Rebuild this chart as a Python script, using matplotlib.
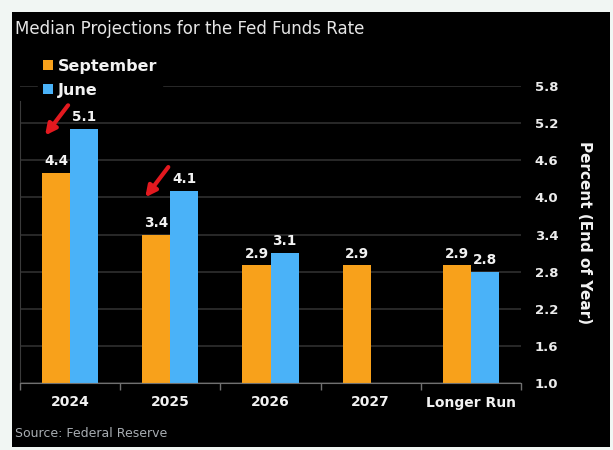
import numpy as np
import matplotlib
matplotlib.use("Agg")
import matplotlib.pyplot as plt
from matplotlib.patches import Rectangle, Patch

categories = ["2024", "2025", "2026", "2027", "Longer Run"]
september = [4.4, 3.4, 2.9, 2.9, 2.9]
june = [5.1, 4.1, 3.1, np.nan, 2.8]
yticks = [1.0, 1.6, 2.2, 2.8, 3.4, 4.0, 4.6, 5.2, 5.8]
arrow_bars = [0, 1]  # categories that carry a red arrow (September bars)

ORANGE = "#f8a11b"
BLUE = "#4ab2f8"
W, H = 613, 450

fig = plt.figure(figsize=(W / 100, H / 100), dpi=100, facecolor="#f1f6f3")
fig.patches.append(Rectangle((12 / W, 3 / H), 598 / W, 435 / H,
                             transform=fig.transFigure, facecolor="black",
                             edgecolor="none", zorder=-10))

ax = fig.add_axes([20 / W, 67 / H, 501 / W, 297 / H])
ax.set_zorder(1)
ax.set_facecolor("black")

x = np.arange(len(categories))
bw = 0.28
sep = np.array(september, dtype=float)
jun = np.array(june, dtype=float)
ax.bar(x - bw / 2, sep, width=bw, color=ORANGE, zorder=2)
mj = ~np.isnan(jun)
ax.bar(x[mj] + bw / 2, jun[mj], width=bw, color=BLUE, zorder=2)

for xi, v in zip(x, sep):
    ax.annotate(f"{v:.1f}", (xi - bw / 2, v), xytext=(0, 3.5), textcoords="offset points",
                ha="center", va="bottom", color="#f2f2f2", fontsize=9.8, fontweight="bold")
for xi, v in zip(x[mj], jun[mj]):
    ax.annotate(f"{v:.1f}", (xi + bw / 2, v), xytext=(0, 3.5), textcoords="offset points",
                ha="center", va="bottom", color="#f2f2f2", fontsize=9.8, fontweight="bold")

for i in arrow_bars:
    v = sep[i]
    ax.annotate("", xy=(x[i] - 0.25, v + 0.6), xytext=(x[i] - 0.02, v + 1.09),
                arrowprops=dict(arrowstyle="-|>", color="#e3191f", lw=3,
                                mutation_scale=16, shrinkA=0, shrinkB=0))

ax.set_xlim(-0.5, len(categories) - 0.5)
ax.set_ylim(yticks[0], yticks[-1])
ax.set_yticks(yticks)
ax.set_yticklabels([f"{t:.1f}" for t in yticks])
ax.yaxis.tick_right()
ax.tick_params(axis="y", length=0, pad=10, labelcolor="#ececec", labelsize=9.5)
for lab in ax.get_yticklabels():
    lab.set_fontweight("bold")
ax.grid(axis="y", color="#333333", linewidth=1.1, zorder=0)
ax.set_axisbelow(True)

ax.set_xticks(x)
ax.set_xticklabels(categories)
ax.set_xticks(np.arange(len(categories) + 1) - 0.5, minor=True)
ax.tick_params(axis="x", which="major", length=0, pad=9, labelcolor="#f2f2f2", labelsize=10)
ax.tick_params(axis="x", which="minor", length=5, color="#707070", width=1, direction="out")
for lab in ax.get_xticklabels():
    lab.set_fontweight("bold")

for s in ["top", "right"]:
    ax.spines[s].set_visible(False)
ax.spines["bottom"].set_color("#707070")
ax.spines["left"].set_color("#3a3a3a")
ax.spines["left"].set_bounds(yticks[0], 5.55)

handles = [Patch(facecolor=ORANGE, edgecolor="none", label="September"),
           Patch(facecolor=BLUE, edgecolor="none", label="June")]
leg = ax.legend(handles=handles, loc="upper left",
                bbox_to_anchor=(30 / W, 1 - 46 / H), bbox_transform=fig.transFigure,
                frameon=True, facecolor="black", edgecolor="black", framealpha=1,
                borderpad=0.3, handlelength=0.62, handleheight=0.62, handletextpad=0.3,
                labelspacing=0.55, prop=dict(size=11.5, weight="bold"))
leg.set_zorder(10)
for t in leg.get_texts():
    t.set_color("#f2f2f2")

fig.text(15 / W, 1 - 34 / H, "Median Projections for the Fed Funds Rate", color="#e6e6e6",
         fontsize=12, ha="left", va="baseline")
fig.text(15 / W, 1 - 437 / H, "Source: Federal Reserve", color="#a8adb2",
         fontsize=9, ha="left", va="baseline")
fig.text(584 / W, 1 - 233 / H, "Percent (End of Year)", color="#f2f2f2", fontsize=11,
         fontweight="bold", rotation=270, ha="center", va="center")

fig.savefig("out.png", dpi=100, facecolor=fig.get_facecolor())
